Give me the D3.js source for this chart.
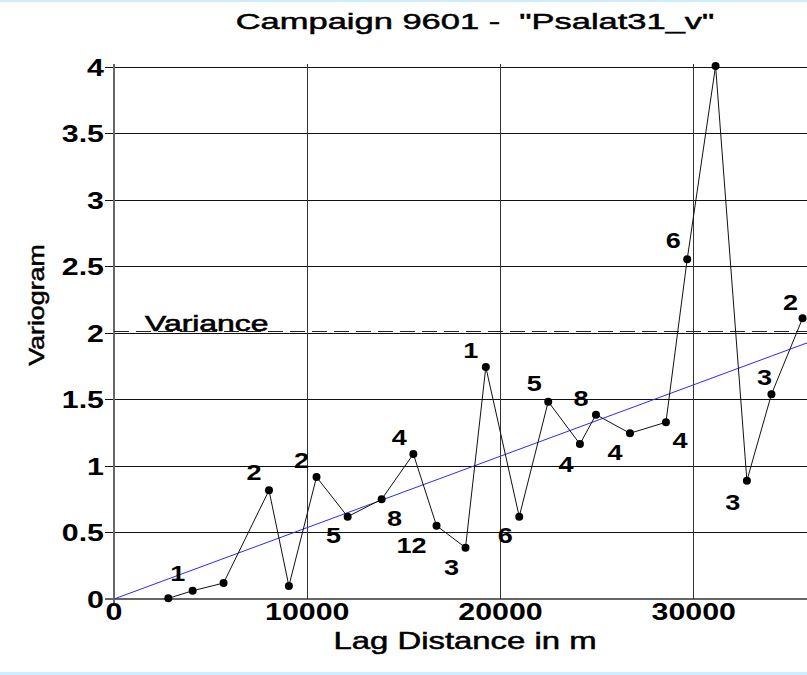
<!DOCTYPE html>
<html><head><meta charset="utf-8">
<script src="https://cdn.jsdelivr.net/npm/d3@7"></script>
<style>html,body{margin:0;padding:0;background:#fff;overflow:hidden}svg{display:block}text{white-space:pre}</style>
</head><body>
<script>
// ---- data ----
const title = 'Campaign 9601 -  "Psalat31_v"';
const lags = [2810,4070,5670,8020,9050,10480,12090,13850,15490,16690,18190,19240,20970,22470,24110,24940,26700,28560,29660,31130,32750,34020,35630];
const gammas = [0.005,0.062,0.12,0.817,0.098,0.917,0.619,0.75,1.09,0.551,0.386,1.744,0.619,1.484,1.165,1.386,1.246,1.329,2.554,4.008,0.89,1.539,2.11];
const pairs = ["","1","","2","","2","5","8","4","12","3","1","6","5","4","8","4","4","6","","3","3","2"];
const variance = 2.015;
const modelLag = [0, 36000];
const modelGamma = [0, 1.933];
const xTicks = [0,10000,20000,30000];
const yTicks = [0,0.5,1,1.5,2,2.5,3,3.5,4];

// ---- layout ----
const W = 807, H = 675;
const svg = d3.select("body").append("svg").attr("width", W).attr("height", H);
const x = d3.scaleLinear().domain([0, 40000]).range([114, 887]);
const y = d3.scaleLinear().domain([0, 4]).range([599, 67]);
const FONT = "'Liberation Sans', Arial, sans-serif";

function txt(str, px, py, size, weight, anchor, sx, rot, thick) {
  return svg.append("text")
    .attr("transform", `translate(${px},${py})` + (rot ? ` rotate(${rot})` : "") + ` scale(${sx},1)`)
    .attr("text-anchor", anchor)
    .attr("font-family", FONT).attr("font-size", size).attr("font-weight", weight)
    .attr("fill", "#000").attr("stroke", thick ? "#000" : "none").attr("stroke-width", thick || 0)
    .text(str);
}

// light blue frame lines
svg.append("rect").attr("x",0).attr("y",0).attr("width",W).attr("height",2).attr("fill","#cdeeff");
svg.append("rect").attr("x",0).attr("y",672).attr("width",W).attr("height",3).attr("fill","#cdeeff");

// horizontal grid + y ticks
svg.selectAll("line.h").data(yTicks).join("line")
  .attr("x1", 105).attr("x2", W).attr("y1", d => y(d)).attr("y2", d => y(d))
  .attr("stroke", d => d === 0 ? "#666" : "#111").attr("stroke-width", d => d === 0 ? 1.5 : 1)
  .attr("shape-rendering","crispEdges");
// vertical grid
svg.selectAll("line.v").data(xTicks.filter(d => d > 0)).join("line")
  .attr("x1", d => x(d)).attr("x2", d => x(d)).attr("y1", 64).attr("y2", 599)
  .attr("stroke", "#333").attr("stroke-width", 1).attr("shape-rendering","crispEdges");
// y axis line
svg.append("line").attr("x1", x(0)).attr("x2", x(0)).attr("y1", 64).attr("y2", 606)
  .attr("stroke", "#666").attr("stroke-width", 2).attr("shape-rendering","crispEdges");

// tick labels
yTicks.forEach(t => txt(String(t), 104, y(t) + 8.5, 23, "bold", "end", 1.32));
xTicks.forEach(t => txt(String(t), x(t), 620, 23, "bold", "middle", 1.32));

// variance line
svg.append("line").attr("x1", x(0)).attr("x2", W).attr("y1", y(variance)).attr("y2", y(variance))
  .attr("stroke", "#222").attr("stroke-width", 1).attr("stroke-dasharray", "15,7")
  .attr("shape-rendering","crispEdges");
txt("Variance", 145, 331, 22, "normal", "start", 1.45, 0, 0.6);

// model line
svg.append("line").attr("x1", x(modelLag[0])).attr("y1", y(modelGamma[0]))
  .attr("x2", x(modelLag[1])).attr("y2", y(modelGamma[1]))
  .attr("stroke", "#2a2aff").attr("stroke-width", 1);

// experimental variogram
const pts = lags.map((l, i) => [l, gammas[i]]);
svg.append("path").attr("d", d3.line().x(d => x(d[0])).y(d => y(d[1]))(pts))
  .attr("fill", "none").attr("stroke", "#111").attr("stroke-width", 1);
svg.selectAll("circle.p").data(pts).join("circle")
  .attr("cx", d => x(d[0])).attr("cy", d => y(d[1])).attr("r", 4).attr("fill", "#000");

// pair-count labels (offsets relative to the point)
const off = [[0,0],[-15,-10],[0,0],[-15,-10],[0,0],[-15,-9],[-14,26],[13,27],[-14,-9],[-25,27],[-14,27],[-15,-9],[-14,26],[-14,-11],[-14,28],[-15,-9],[-15,27],[14,26],[-14,-11],[0,0],[-14,29],[-7,-9],[-12,-8]];
pts.forEach((p, i) => {
  if (!pairs[i]) return;
  txt(pairs[i], x(p[0]) + off[i][0], y(p[1]) + off[i][1], 22, "bold", "middle", 1.23);
});

// titles
txt(title, 475, 29, 23, "normal", "middle", 1.5, 0, 0.5);
txt("Lag Distance in m", 465, 649, 23, "normal", "middle", 1.43, 0, 0.5);
txt("Variogram", 44, 305, 22, "normal", "middle", 1.22, -90, 0.5);
</script>
</body></html>
